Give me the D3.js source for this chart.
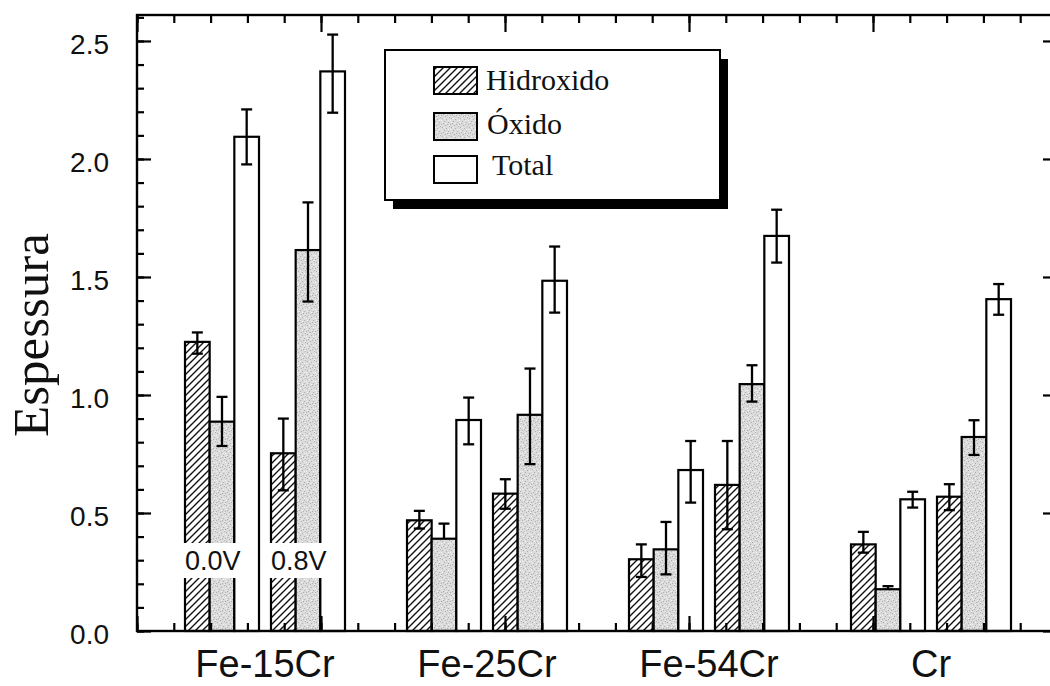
<!DOCTYPE html>
<html>
<head>
<meta charset="utf-8">
<script src="https://cdn.jsdelivr.net/npm/d3@7"></script>
<style>
  html, body { margin: 0; padding: 0; background: #fff; }
  svg { display: block; }
</style>
</head>
<body>
<svg id="chart" width="1050" height="686"></svg>
<script>
// ---- data ----
const categories = ["Fe-15Cr", "Fe-25Cr", "Fe-54Cr", "Cr"];
const voltages = ["0.0V", "0.8V"];
const series = ["Hidroxido", "Óxido", "Total"];

// values ordered as Fe-15Cr(0.0V, 0.8V), Fe-25Cr(...), Fe-54Cr(...), Cr(...)
const hidroxido = [1.225, 0.753, 0.469, 0.582, 0.304, 0.619, 0.367, 0.569];
const oxido     = [0.887, 1.614, 0.391, 0.916, 0.346, 1.046, 0.177, 0.822];
const total     = [2.094, 2.371, 0.894, 1.484, 0.682, 1.674, 0.558, 1.406];

const hidroxidoErrUp   = [0.040, 0.147, 0.040, 0.061, 0.063, 0.186, 0.053, 0.053];
const hidroxidoErrDown = [0.050, 0.157, 0.035, 0.064, 0.075, 0.188, 0.035, 0.057];
const oxidoErrUp       = [0.105, 0.202, 0.064, 0.196, 0.116, 0.080, 0.013, 0.071];
const oxidoErrDown     = [0.103, 0.218, 0.000, 0.209, 0.106, 0.074, 0.000, 0.076];
const totalErrUp       = [0.116, 0.156, 0.095, 0.145, 0.123, 0.111, 0.032, 0.064];
const totalErrDown     = [0.117, 0.175, 0.103, 0.135, 0.138, 0.113, 0.035, 0.066];

const yMajorTicks = [0, 0.5, 1.0, 1.5, 2.0, 2.5];
const yLabel = "Espessura";

// ---- assemble rows ----
const seriesValues = [hidroxido, oxido, total];
const seriesUp = [hidroxidoErrUp, oxidoErrUp, totalErrUp];
const seriesDown = [hidroxidoErrDown, oxidoErrDown, totalErrDown];
const rows = [];
categories.forEach((c, ci) => {
  voltages.forEach((v, vi) => {
    series.forEach((s, si) => {
      const k = ci * voltages.length + vi;
      rows.push({ cat: c, volt: v, ser: s, si,
        value: seriesValues[si][k], up: seriesUp[si][k], down: seriesDown[si][k] });
    });
  });
});

const svg = d3.select("#chart");
svg.append("rect").attr("width", 1050).attr("height", 686).attr("fill", "#fff");

// ---- patterns ----
const defs = svg.append("defs");
const hatch = defs.append("pattern").attr("id", "hatch")
  .attr("patternUnits", "userSpaceOnUse").attr("width", 7).attr("height", 7);
hatch.append("rect").attr("width", 7).attr("height", 7).attr("fill", "#fff");
hatch.append("path").attr("d", "M-1,1 L1,-1 M0,7 L7,0 M6,8 L8,6")
  .attr("stroke", "#111").attr("stroke-width", 1.4);

const stipple = defs.append("pattern").attr("id", "stipple")
  .attr("patternUnits", "userSpaceOnUse").attr("width", 9).attr("height", 9);
stipple.append("rect").attr("width", 9).attr("height", 9).attr("fill", "#dbdbdb");
const darkSpecks = [[1,1],[5,2],[3,4],[7,5],[0,7],[4,8],[8,0],[6,7],[2,6]];
const lightSpecks = [[3,1],[7,3],[1,5],[5,6],[8,8],[0,3]];
stipple.selectAll("rect.d").data(darkSpecks).enter().append("rect")
  .attr("x", d => d[0]).attr("y", d => d[1]).attr("width", 1).attr("height", 1)
  .attr("fill", "#b0b0b0");
stipple.selectAll("rect.l").data(lightSpecks).enter().append("rect")
  .attr("x", d => d[0]).attr("y", d => d[1]).attr("width", 1).attr("height", 1)
  .attr("fill", "#f2f2f2");

const fills = { "Hidroxido": "url(#hatch)", "Óxido": "url(#stipple)", "Total": "#fff" };

// ---- scales ----
const frame = { left: 137, right: 1057, top: 15, bottom: 631 };
const y = d3.scaleLinear().domain([0, 2.61]).range([frame.bottom, frame.top]);
const xFrame = d3.scaleLinear().domain([0, 25]).range([frame.left, frame.right]);

const x0 = d3.scaleBand().domain(categories).range([140.6, 1055.4])
  .paddingInner(0.2793).paddingOuter(0.2);
const x1 = d3.scaleBand().domain(voltages).range([0, x0.bandwidth()])
  .paddingInner(0.1395).paddingOuter(0);
const x2 = d3.scaleBand().domain(series).range([0, x1.bandwidth()]).padding(0);
const barX = d => x0(d.cat) + x1(d.volt) + x2(d.ser);

// ---- bars ----
const bars = svg.append("g");
bars.selectAll("rect").data(rows).enter().append("rect")
  .attr("x", barX)
  .attr("y", d => y(d.value))
  .attr("width", x2.bandwidth())
  .attr("height", d => y(0) - y(d.value))
  .attr("fill", d => fills[d.ser])
  .attr("stroke", "#000")
  .attr("stroke-width", 2.2);

// ---- error bars ----
const errs = svg.append("g").attr("stroke", "#000").attr("stroke-width", 2.3);
rows.forEach(d => {
  const cx = barX(d) + x2.bandwidth() / 2;
  const yt = y(d.value + d.up), yb = y(d.value - d.down);
  errs.append("line").attr("x1", cx).attr("x2", cx).attr("y1", yt).attr("y2", yb);
  errs.append("line").attr("x1", cx - 5.5).attr("x2", cx + 5.5).attr("y1", yt).attr("y2", yt);
  if (d.down > 0)
    errs.append("line").attr("x1", cx - 5.5).attr("x2", cx + 5.5).attr("y1", yb).attr("y2", yb);
});

// ---- voltage labels on the first group ----
const vlab = svg.append("g");
voltages.forEach(v => {
  const left = x0(categories[0]) + x1(v);
  vlab.append("rect").attr("x", left - 3).attr("y", 543)
    .attr("width", 64).attr("height", 35).attr("fill", "#fff");
  vlab.append("text").attr("x", left).attr("y", 570)
    .attr("font-family", "Liberation Sans, Arial, sans-serif")
    .attr("font-size", 27).attr("fill", "#111").text(v);
});

// ---- frame and ticks ----
const tickFont = "Liberation Sans, Arial, sans-serif";
const yMinor = d3.range(0, 27).map(i => i / 10);
const xMinor = d3.range(0, 26);
const xMajor = [0, 5, 10, 15, 20, 25];

const leftMinor = svg.append("g").attr("transform", `translate(${frame.left},0)`)
  .call(d3.axisLeft(y).tickValues(yMinor).tickSize(-7).tickFormat(""));
const leftMajor = svg.append("g").attr("transform", `translate(${frame.left},0)`)
  .call(d3.axisLeft(y).tickValues(yMajorTicks).tickSize(-14).tickPadding(28)
    .tickFormat(d3.format(".1f")));
const rightMinor = svg.append("g").attr("transform", `translate(${frame.right},0)`)
  .call(d3.axisRight(y).tickValues(yMinor).tickSize(-7).tickFormat(""));
const rightMajor = svg.append("g").attr("transform", `translate(${frame.right},0)`)
  .call(d3.axisRight(y).tickValues(yMajorTicks).tickSize(-14).tickFormat(""));
const topMinor = svg.append("g").attr("transform", `translate(0,${frame.top})`)
  .call(d3.axisTop(xFrame).tickValues(xMinor).tickSize(-8).tickFormat(""));
const topMajor = svg.append("g").attr("transform", `translate(0,${frame.top})`)
  .call(d3.axisTop(xFrame).tickValues(xMajor).tickSize(-17).tickFormat(""));
const botMinor = svg.append("g").attr("transform", `translate(0,${frame.bottom})`)
  .call(d3.axisBottom(xFrame).tickValues(xMinor).tickSize(-8).tickFormat(""));
const botMajor = svg.append("g").attr("transform", `translate(0,${frame.bottom})`)
  .call(d3.axisBottom(xFrame).tickValues(xMajor).tickSize(-15).tickFormat(""));

[leftMinor, leftMajor, rightMinor, rightMajor, topMinor, topMajor, botMinor, botMajor]
  .forEach(g => {
    g.select(".domain").remove();
    g.selectAll(".tick line").attr("stroke", "#000").attr("stroke-width", 2.2);
  });
leftMajor.selectAll(".tick text")
  .attr("font-family", tickFont).attr("font-size", 28).attr("fill", "#111")
  .attr("dy", "0.45em");

svg.append("rect")
  .attr("x", frame.left).attr("y", frame.top)
  .attr("width", frame.right - frame.left).attr("height", frame.bottom - frame.top)
  .attr("fill", "none").attr("stroke", "#000").attr("stroke-width", 2.4);

// ---- category labels ----
const catAxis = svg.append("g").attr("transform", `translate(0,${frame.bottom})`)
  .call(d3.axisBottom(x0).tickSize(0).tickPadding(19));
catAxis.select(".domain").remove();
catAxis.selectAll(".tick text")
  .attr("font-family", tickFont).attr("font-size", 38).attr("fill", "#111")
  .attr("dy", "0.71em");

// ---- y label ----
svg.append("text")
  .attr("transform", "translate(48,335) rotate(-90)")
  .attr("text-anchor", "middle")
  .attr("font-family", "Liberation Serif, Times New Roman, serif")
  .attr("font-size", 51).attr("fill", "#111")
  .text(yLabel);

// ---- legend ----
const lg = { x: 385, y: 50, w: 335, h: 150 };
const legend = svg.append("g");
legend.append("rect").attr("x", lg.x + 8).attr("y", lg.y + 9)
  .attr("width", lg.w).attr("height", lg.h).attr("fill", "#000");
legend.append("rect").attr("x", lg.x).attr("y", lg.y)
  .attr("width", lg.w).attr("height", lg.h)
  .attr("fill", "#fff").attr("stroke", "#000").attr("stroke-width", 2);
const legendRows = [
  { name: series[0], sy: 67, tx: 486, ty: 90 },
  { name: series[1], sy: 113, tx: 487, ty: 134 },
  { name: series[2], sy: 156, tx: 492, ty: 175 }
];
legendRows.forEach(r => {
  legend.append("rect").attr("x", 434).attr("y", r.sy).attr("width", 43).attr("height", 27)
    .attr("fill", fills[r.name]).attr("stroke", "#000").attr("stroke-width", 2);
  legend.append("text").attr("x", r.tx).attr("y", r.ty)
    .attr("font-family", "Liberation Serif, Times New Roman, serif")
    .attr("font-size", 30).attr("fill", "#111").text(r.name);
});
</script>
</body>
</html>
